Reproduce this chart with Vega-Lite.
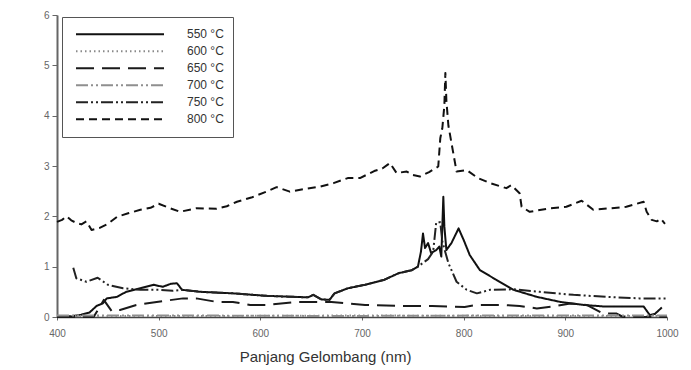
{
  "$schema": "https://vega.github.io/schema/vega-lite/v6.json",
  "width": 610,
  "height": 302,
  "autosize": {"type": "none"},
  "padding": {"left": 57, "top": 15, "right": 24, "bottom": 53},
  "background": "white",
  "config": {
    "view": {"stroke": null},
    "font": "Liberation Sans"
  },
  "datasets": {
    "spectra": [
      {"suhu": "550 °C", "nm": 400, "v": 0.0},
      {"suhu": "550 °C", "nm": 415, "v": 0.02},
      {"suhu": "550 °C", "nm": 423, "v": 0.04},
      {"suhu": "550 °C", "nm": 432, "v": 0.09},
      {"suhu": "550 °C", "nm": 439, "v": 0.22},
      {"suhu": "550 °C", "nm": 445, "v": 0.27},
      {"suhu": "550 °C", "nm": 449, "v": 0.37},
      {"suhu": "550 °C", "nm": 459, "v": 0.40},
      {"suhu": "550 °C", "nm": 468, "v": 0.50},
      {"suhu": "550 °C", "nm": 482, "v": 0.57},
      {"suhu": "550 °C", "nm": 495, "v": 0.64},
      {"suhu": "550 °C", "nm": 504, "v": 0.60},
      {"suhu": "550 °C", "nm": 512, "v": 0.66},
      {"suhu": "550 °C", "nm": 518, "v": 0.67},
      {"suhu": "550 °C", "nm": 523, "v": 0.54},
      {"suhu": "550 °C", "nm": 541, "v": 0.50},
      {"suhu": "550 °C", "nm": 573, "v": 0.47},
      {"suhu": "550 °C", "nm": 606, "v": 0.42},
      {"suhu": "550 °C", "nm": 647, "v": 0.39},
      {"suhu": "550 °C", "nm": 652, "v": 0.44},
      {"suhu": "550 °C", "nm": 660, "v": 0.35},
      {"suhu": "550 °C", "nm": 668, "v": 0.34},
      {"suhu": "550 °C", "nm": 673, "v": 0.47},
      {"suhu": "550 °C", "nm": 686, "v": 0.57},
      {"suhu": "550 °C", "nm": 703, "v": 0.64},
      {"suhu": "550 °C", "nm": 722, "v": 0.74},
      {"suhu": "550 °C", "nm": 736, "v": 0.87},
      {"suhu": "550 °C", "nm": 749, "v": 0.93},
      {"suhu": "550 °C", "nm": 755, "v": 1.00},
      {"suhu": "550 °C", "nm": 758, "v": 1.30},
      {"suhu": "550 °C", "nm": 760, "v": 1.66},
      {"suhu": "550 °C", "nm": 762, "v": 1.37},
      {"suhu": "550 °C", "nm": 765, "v": 1.47},
      {"suhu": "550 °C", "nm": 768, "v": 1.27},
      {"suhu": "550 °C", "nm": 773, "v": 1.33},
      {"suhu": "550 °C", "nm": 776, "v": 1.40},
      {"suhu": "550 °C", "nm": 778, "v": 1.20},
      {"suhu": "550 °C", "nm": 780, "v": 2.39},
      {"suhu": "550 °C", "nm": 781, "v": 1.80},
      {"suhu": "550 °C", "nm": 783, "v": 1.33},
      {"suhu": "550 °C", "nm": 788, "v": 1.47},
      {"suhu": "550 °C", "nm": 795, "v": 1.76},
      {"suhu": "550 °C", "nm": 800, "v": 1.53},
      {"suhu": "550 °C", "nm": 806, "v": 1.23},
      {"suhu": "550 °C", "nm": 816, "v": 0.93},
      {"suhu": "550 °C", "nm": 832, "v": 0.74},
      {"suhu": "550 °C", "nm": 849, "v": 0.54},
      {"suhu": "550 °C", "nm": 872, "v": 0.40},
      {"suhu": "550 °C", "nm": 895, "v": 0.30},
      {"suhu": "550 °C", "nm": 918, "v": 0.24},
      {"suhu": "550 °C", "nm": 937, "v": 0.21},
      {"suhu": "550 °C", "nm": 957, "v": 0.21},
      {"suhu": "550 °C", "nm": 977, "v": 0.21},
      {"suhu": "550 °C", "nm": 983, "v": 0.04},
      {"suhu": "550 °C", "nm": 988, "v": 0.06},
      {"suhu": "550 °C", "nm": 995, "v": 0.19},

      {"suhu": "600 °C", "nm": 400, "v": 0.02},
      {"suhu": "600 °C", "nm": 550, "v": 0.02},
      {"suhu": "600 °C", "nm": 700, "v": 0.03},
      {"suhu": "600 °C", "nm": 850, "v": 0.02},
      {"suhu": "600 °C", "nm": 1000, "v": 0.02},

      {"suhu": "650 °C", "nm": 400, "v": 0.0},
      {"suhu": "650 °C", "nm": 436, "v": 0.0},
      {"suhu": "650 °C", "nm": 444, "v": 0.27},
      {"suhu": "650 °C", "nm": 446, "v": 0.34},
      {"suhu": "650 °C", "nm": 454, "v": 0.11},
      {"suhu": "650 °C", "nm": 462, "v": 0.14},
      {"suhu": "650 °C", "nm": 478, "v": 0.24},
      {"suhu": "650 °C", "nm": 498, "v": 0.30},
      {"suhu": "650 °C", "nm": 524, "v": 0.37},
      {"suhu": "650 °C", "nm": 537, "v": 0.37},
      {"suhu": "650 °C", "nm": 557, "v": 0.30},
      {"suhu": "650 °C", "nm": 573, "v": 0.30},
      {"suhu": "650 °C", "nm": 590, "v": 0.24},
      {"suhu": "650 °C", "nm": 606, "v": 0.24},
      {"suhu": "650 °C", "nm": 637, "v": 0.30},
      {"suhu": "650 °C", "nm": 670, "v": 0.30},
      {"suhu": "650 °C", "nm": 703, "v": 0.24},
      {"suhu": "650 °C", "nm": 736, "v": 0.22},
      {"suhu": "650 °C", "nm": 769, "v": 0.22},
      {"suhu": "650 °C", "nm": 801, "v": 0.20},
      {"suhu": "650 °C", "nm": 813, "v": 0.24},
      {"suhu": "650 °C", "nm": 839, "v": 0.24},
      {"suhu": "650 °C", "nm": 855, "v": 0.22},
      {"suhu": "650 °C", "nm": 872, "v": 0.17},
      {"suhu": "650 °C", "nm": 888, "v": 0.21},
      {"suhu": "650 °C", "nm": 905, "v": 0.27},
      {"suhu": "650 °C", "nm": 921, "v": 0.24},
      {"suhu": "650 °C", "nm": 937, "v": 0.07},
      {"suhu": "650 °C", "nm": 950, "v": 0.07},
      {"suhu": "650 °C", "nm": 957, "v": 0.0},
      {"suhu": "650 °C", "nm": 1000, "v": 0.0},

      {"suhu": "700 °C", "nm": 400, "v": 0.03},
      {"suhu": "700 °C", "nm": 520, "v": 0.03},
      {"suhu": "700 °C", "nm": 680, "v": 0.02},
      {"suhu": "700 °C", "nm": 840, "v": 0.03},
      {"suhu": "700 °C", "nm": 1000, "v": 0.03},

      {"suhu": "750 °C", "nm": 416, "v": 0.98},
      {"suhu": "750 °C", "nm": 419, "v": 0.77},
      {"suhu": "750 °C", "nm": 429, "v": 0.70},
      {"suhu": "750 °C", "nm": 440, "v": 0.78},
      {"suhu": "750 °C", "nm": 450, "v": 0.64},
      {"suhu": "750 °C", "nm": 465, "v": 0.57},
      {"suhu": "750 °C", "nm": 482, "v": 0.54},
      {"suhu": "750 °C", "nm": 501, "v": 0.54},
      {"suhu": "750 °C", "nm": 514, "v": 0.52},
      {"suhu": "750 °C", "nm": 523, "v": 0.54},
      {"suhu": "750 °C", "nm": 541, "v": 0.50},
      {"suhu": "750 °C", "nm": 573, "v": 0.47},
      {"suhu": "750 °C", "nm": 606, "v": 0.42},
      {"suhu": "750 °C", "nm": 647, "v": 0.39},
      {"suhu": "750 °C", "nm": 652, "v": 0.44},
      {"suhu": "750 °C", "nm": 660, "v": 0.35},
      {"suhu": "750 °C", "nm": 668, "v": 0.34},
      {"suhu": "750 °C", "nm": 673, "v": 0.47},
      {"suhu": "750 °C", "nm": 686, "v": 0.57},
      {"suhu": "750 °C", "nm": 703, "v": 0.64},
      {"suhu": "750 °C", "nm": 722, "v": 0.74},
      {"suhu": "750 °C", "nm": 736, "v": 0.87},
      {"suhu": "750 °C", "nm": 749, "v": 0.93},
      {"suhu": "750 °C", "nm": 755, "v": 1.00},
      {"suhu": "750 °C", "nm": 765, "v": 1.15},
      {"suhu": "750 °C", "nm": 770, "v": 1.30},
      {"suhu": "750 °C", "nm": 773, "v": 1.88},
      {"suhu": "750 °C", "nm": 777, "v": 1.88},
      {"suhu": "750 °C", "nm": 779, "v": 1.50},
      {"suhu": "750 °C", "nm": 785, "v": 1.07},
      {"suhu": "750 °C", "nm": 793, "v": 0.70},
      {"suhu": "750 °C", "nm": 803, "v": 0.54},
      {"suhu": "750 °C", "nm": 813, "v": 0.47},
      {"suhu": "750 °C", "nm": 826, "v": 0.54},
      {"suhu": "750 °C", "nm": 849, "v": 0.55},
      {"suhu": "750 °C", "nm": 875, "v": 0.50},
      {"suhu": "750 °C", "nm": 908, "v": 0.44},
      {"suhu": "750 °C", "nm": 941, "v": 0.40},
      {"suhu": "750 °C", "nm": 973, "v": 0.37},
      {"suhu": "750 °C", "nm": 1000, "v": 0.37},

      {"suhu": "800 °C", "nm": 400, "v": 1.89},
      {"suhu": "800 °C", "nm": 405, "v": 1.93},
      {"suhu": "800 °C", "nm": 409.5, "v": 2.0},
      {"suhu": "800 °C", "nm": 414, "v": 1.92},
      {"suhu": "800 °C", "nm": 419, "v": 1.87},
      {"suhu": "800 °C", "nm": 424, "v": 1.84},
      {"suhu": "800 °C", "nm": 429, "v": 1.90},
      {"suhu": "800 °C", "nm": 434, "v": 1.73},
      {"suhu": "800 °C", "nm": 442, "v": 1.77},
      {"suhu": "800 °C", "nm": 450, "v": 1.85},
      {"suhu": "800 °C", "nm": 459, "v": 1.99},
      {"suhu": "800 °C", "nm": 470, "v": 2.06},
      {"suhu": "800 °C", "nm": 482, "v": 2.13},
      {"suhu": "800 °C", "nm": 492, "v": 2.17},
      {"suhu": "800 °C", "nm": 500, "v": 2.25},
      {"suhu": "800 °C", "nm": 510, "v": 2.17},
      {"suhu": "800 °C", "nm": 521, "v": 2.09},
      {"suhu": "800 °C", "nm": 537, "v": 2.16},
      {"suhu": "800 °C", "nm": 557, "v": 2.15},
      {"suhu": "800 °C", "nm": 567, "v": 2.20},
      {"suhu": "800 °C", "nm": 577, "v": 2.29},
      {"suhu": "800 °C", "nm": 592, "v": 2.38},
      {"suhu": "800 °C", "nm": 606, "v": 2.49},
      {"suhu": "800 °C", "nm": 616, "v": 2.58},
      {"suhu": "800 °C", "nm": 629, "v": 2.49},
      {"suhu": "800 °C", "nm": 645, "v": 2.55},
      {"suhu": "800 °C", "nm": 659, "v": 2.59},
      {"suhu": "800 °C", "nm": 672, "v": 2.66},
      {"suhu": "800 °C", "nm": 686, "v": 2.76},
      {"suhu": "800 °C", "nm": 698, "v": 2.76},
      {"suhu": "800 °C", "nm": 712, "v": 2.90},
      {"suhu": "800 °C", "nm": 720, "v": 2.95},
      {"suhu": "800 °C", "nm": 727.5, "v": 3.06},
      {"suhu": "800 °C", "nm": 734, "v": 2.86},
      {"suhu": "800 °C", "nm": 744, "v": 2.89},
      {"suhu": "800 °C", "nm": 750, "v": 2.82},
      {"suhu": "800 °C", "nm": 757, "v": 2.79},
      {"suhu": "800 °C", "nm": 766, "v": 2.88},
      {"suhu": "800 °C", "nm": 775, "v": 2.99},
      {"suhu": "800 °C", "nm": 777, "v": 3.55},
      {"suhu": "800 °C", "nm": 779, "v": 3.75},
      {"suhu": "800 °C", "nm": 781, "v": 4.2},
      {"suhu": "800 °C", "nm": 782, "v": 4.85},
      {"suhu": "800 °C", "nm": 783, "v": 4.3},
      {"suhu": "800 °C", "nm": 785, "v": 3.8},
      {"suhu": "800 °C", "nm": 788, "v": 3.46},
      {"suhu": "800 °C", "nm": 793, "v": 2.89},
      {"suhu": "800 °C", "nm": 803, "v": 2.92},
      {"suhu": "800 °C", "nm": 814, "v": 2.76},
      {"suhu": "800 °C", "nm": 826, "v": 2.66},
      {"suhu": "800 °C", "nm": 842, "v": 2.56},
      {"suhu": "800 °C", "nm": 847, "v": 2.62},
      {"suhu": "800 °C", "nm": 855, "v": 2.46},
      {"suhu": "800 °C", "nm": 857, "v": 2.19},
      {"suhu": "800 °C", "nm": 865, "v": 2.09},
      {"suhu": "800 °C", "nm": 885, "v": 2.16},
      {"suhu": "800 °C", "nm": 901, "v": 2.19},
      {"suhu": "800 °C", "nm": 916, "v": 2.31},
      {"suhu": "800 °C", "nm": 927.5, "v": 2.13},
      {"suhu": "800 °C", "nm": 944, "v": 2.16},
      {"suhu": "800 °C", "nm": 960, "v": 2.19},
      {"suhu": "800 °C", "nm": 977, "v": 2.29},
      {"suhu": "800 °C", "nm": 980, "v": 2.09},
      {"suhu": "800 °C", "nm": 985, "v": 1.93},
      {"suhu": "800 °C", "nm": 990, "v": 1.90},
      {"suhu": "800 °C", "nm": 994, "v": 1.95},
      {"suhu": "800 °C", "nm": 998, "v": 1.85}
    ]
  },
  "data": {"name": "spectra"},
  "mark": {"type": "line", "strokeWidth": 2, "strokeCap": "butt", "strokeJoin": "round"},
  "encoding": {
    "x": {
      "field": "nm", "type": "quantitative",
      "scale": {"domain": [400, 1000], "nice": false, "zero": false},
      "axis": {
        "title": "Panjang Gelombang (nm)",
        "values": [400, 500, 600, 700, 800, 900, 1000],
        "format": "d",
        "grid": false,
        "domainColor": "#444", "domainWidth": 1.5,
        "tickColor": "#666", "tickSize": 3,
        "labelFont": "Liberation Sans", "labelFontSize": 10, "labelColor": "#666",
        "labelDx": 10, "labelPadding": 8, "labelFlush": false,
        "titleFont": "Liberation Sans", "titleFontSize": 15, "titleFontWeight": "normal", "titleColor": "#333",
        "titleX": 268, "titleY": 44, "titleBaseline": "alphabetic", "titleAnchor": "middle", "titleAlign": "center"
      }
    },
    "y": {
      "field": "v", "type": "quantitative",
      "scale": {"domain": [0, 6], "nice": false},
      "axis": {
        "title": null,
        "values": [0, 1, 2, 3, 4, 5, 6],
        "grid": false,
        "domainColor": "#666", "domainWidth": 2,
        "tickColor": "#666", "tickSize": 5,
        "labelFont": "Liberation Sans", "labelFontSize": 10, "labelColor": "#666",
        "labelPadding": 3
      }
    },
    "color": {
      "field": "suhu", "type": "nominal",
      "scale": {
        "domain": ["550 °C", "600 °C", "650 °C", "700 °C", "750 °C", "800 °C"],
        "range": ["#111111", "#8a8a8a", "#1a1a1a", "#8f8f8f", "#222222", "#111111"]
      },
      "legend": {
        "title": null,
        "orient": "none", "legendX": 5, "legendY": 2,
        "strokeColor": "#555", "fillColor": "white",
        "padding": 9, "symbolOffset": 4,
        "symbolSize": 7744, "symbolStrokeWidth": 2, "symbolType": "stroke",
        "clipHeight": 16.6, "rowPadding": 0,
        "labelOffset": 22, "labelFont": "Liberation Sans", "labelFontSize": 12, "labelColor": "#333",
        "symbolLimit": 0
      }
    },
    "strokeDash": {
      "field": "suhu", "type": "nominal",
      "scale": {
        "domain": ["550 °C", "600 °C", "650 °C", "700 °C", "750 °C", "800 °C"],
        "range": [[1, 0], [1.5, 3], [18, 8], [12, 3, 2, 3, 2, 3], [12, 3, 2, 3, 2, 3], [8, 5]]
      }
    }
  }
}
